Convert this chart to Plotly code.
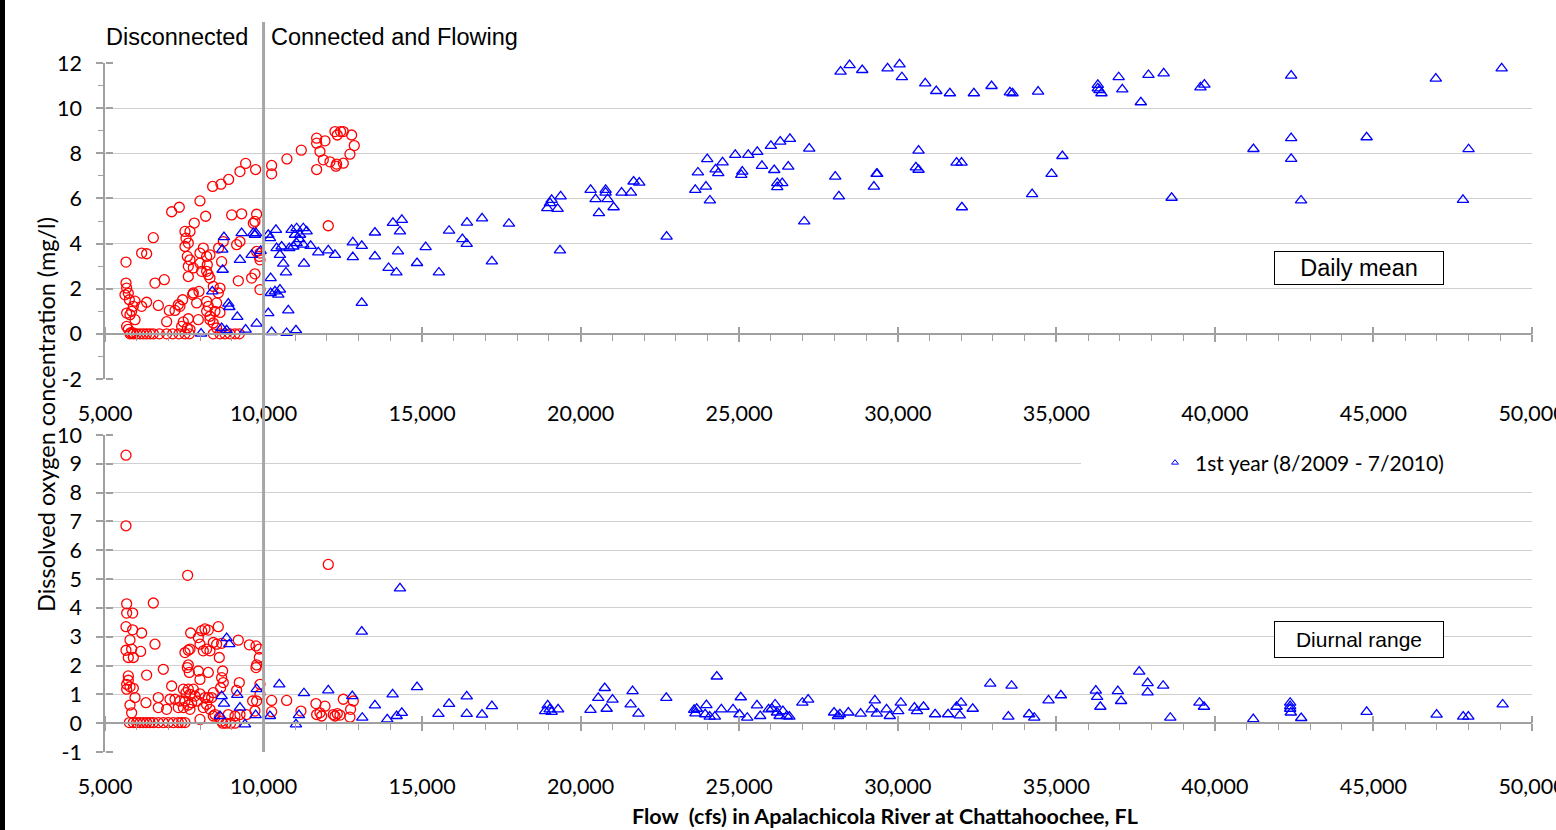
import plotly.graph_objects as go

# ---------------- data ----------------
# Top panel: daily mean DO (mg/l) vs flow (cfs)
top_red_flow = [5662, 6156, 6313, 6524, 7102, 7343, 7995, 8174, 8394, 8657,
                8899, 9256, 9435, 9750, 10255, 10255, 10738, 11190, 11674, 11674,
                11674, 11779, 11937, 11884, 12094, 12304, 12514, 12283, 12252, 12430,
                12514, 12325, 12777, 12861, 12724, 12041, 5662, 5683, 5630, 5735,
                5767, 5683, 5788, 5840, 5893, 5683, 5735, 5810, 5893, 5946,
                5946, 6313, 6156, 6682, 6576, 6870, 7028, 7207, 7364, 7448,
                6944, 7469, 7627, 7596, 7680, 5788, 5893, 5998, 6103, 6208,
                6313, 6418, 6524, 6713, 6944, 7133, 7333, 7522, 7659, 8415,
                8626, 8783, 8941, 9099, 9235, 7522, 7680, 7554, 7627, 7522,
                7596, 7680, 7627, 7785, 7627, 7816, 7785, 7964, 7995, 8100,
                8205, 8310, 7995, 8047, 8205, 8258, 8310, 8226, 8583, 8730,
                8678, 8994, 9309, 9782, 9729, 9677, 9151, 9256, 9782, 9887,
                9866, 9887, 9204, 9624, 9729, 9887, 8415, 8626, 8573, 8521,
                8468, 8626, 8310, 8205, 8205, 8258, 7890, 7764, 7943, 8310,
                8415, 8521, 7312, 7417]
top_red_do = [3.18, 3.58, 3.55, 4.26, 5.41, 5.61, 5.89, 5.21, 6.53, 6.63,
              6.84, 7.19, 7.55, 7.28, 7.46, 7.09, 7.75, 8.14, 8.67, 8.45,
              7.28, 8.08, 8.55, 7.71, 7.62, 7.52, 7.56, 7.43, 8.96, 8.96,
              8.96, 8.81, 8.81, 8.34, 7.96, 4.79, 2.25, 2.03, 1.73, 1.80,
              1.51, 0.92, 0.85, 1.00, 1.22, 0.33, 0.20, 0.05, 0.04, 0.63,
              1.45, 1.40, 1.22, 1.26, 2.25, 2.40, 1.04, 1.04, 1.22, 1.51,
              0.54, 0.53, 0.67, 0.26, 0.19, 0.0, 0.0, 0.0, 0.0, 0.0,
              0.0, 0.0, 0.0, 0.0, 0.0, 0.0, 0.0, 0.0, 0.0, 0.0,
              0.0, 0.0, 0.0, 0.0, 0.0, 4.54, 4.54, 4.24, 4.02, 3.87,
              3.43, 3.28, 2.99, 2.92, 2.54, 4.91, 1.81, 1.88, 3.58, 3.80,
              3.43, 3.50, 3.13, 2.77, 2.77, 2.62, 2.47, 3.06, 3.80, 4.09,
              3.20, 5.27, 5.32, 5.30, 4.98, 4.90, 3.95, 4.09, 3.65, 3.58,
              3.43, 3.28, 2.35, 2.47, 2.66, 1.96, 2.10, 2.03, 1.81, 1.37,
              1.00, 0.95, 0.78, 1.00, 1.44, 1.22, 1.37, 1.74, 0.63, 0.63,
              0.48, 0.26, 1.29, 0.33]

top_blue_flow = [8030, 8384, 8678, 8710, 8699, 8752, 8836, 8888, 8920, 9172,
                 9256, 9309, 9435, 9624, 9677, 9729, 9761, 9782, 9908, 10149,
                 10202, 10391, 10412, 10570, 10517, 10622, 10707, 10223, 10223, 10360,
                 10465, 10517, 10149, 10780, 10255, 10728, 11022, 10885, 11043, 11253,
                 10990, 11148, 11358, 11127, 10812, 10938, 11043, 11253, 11484, 11726,
                 12041, 12252, 11274, 12815, 13097, 12815, 13097, 13512, 13512, 13942,
                 14190, 14080, 14360, 14302, 14240, 14840, 15112, 15530, 15850, 16270,
                 16407, 16415, 16890, 17200, 17738, 18947, 19031, 19084, 19273, 19368,
                 19347, 20314, 20471, 20576, 20787, 20787, 20850, 21039, 21291, 21585,
                 21669, 21848, 22710, 23614, 23698, 23950, 23992, 24076, 24255, 24339,
                 24475, 24875, 25064, 25096, 25285, 25569, 25716, 25999, 26104, 26199,
                 26199, 26357, 26294, 26546, 26599, 27050, 27208, 28028, 28143, 28196,
                 28480, 28879, 29247, 29331, 29352, 29678, 30056, 30130, 30655, 30571,
                 30655, 30866, 31213, 31643, 31854, 32011, 32022, 32400, 32957, 33535,
                 33619, 34236, 34425, 34850, 35191, 36308, 36308, 36360, 36423, 36966,
                 37080, 37665, 37905, 38385, 38636, 39544, 39670, 41215, 42405, 42405,
                 42405, 42718, 44785, 46967, 47823, 48000, 49044]
top_blue_do = [0.01, 1.88, 0.26, 2.84, 3.73, 4.29, 0.16, 1.34, 1.19, 0.75,
               3.28, 4.46, 0.19, 3.50, 4.46, 4.39, 4.46, 0.45, 3.68, 4.39,
               4.24, 4.61, 3.80, 3.87, 3.50, 3.11, 2.72, 2.47, 1.81, 1.88,
               1.74, 1.96, 0.92, 1.04, 0.08, 0.04, 0.16, 4.61, 4.68, 4.68,
               4.39, 4.39, 4.54, 4.20, 3.80, 3.87, 4.02, 3.95, 3.90, 3.61,
               3.70, 3.50, 3.11, 4.05, 3.90, 3.40, 1.37, 4.49, 3.43, 2.92,
               2.72, 4.92, 5.05, 4.54, 3.65, 3.14, 3.84, 2.72, 4.57, 4.20,
               3.99, 4.93, 5.12, 3.21, 4.88, 5.57, 5.79, 5.94, 5.54, 6.09,
               3.70, 6.38, 5.97, 5.35, 6.38, 6.26, 5.97, 5.61, 6.26, 6.26,
               6.75, 6.70, 4.31, 6.38, 7.15, 6.52, 7.74, 5.91, 7.29, 7.12,
               7.60, 7.93, 7.04, 7.19, 7.93, 8.06, 7.44, 8.33, 7.26, 6.68,
               6.50, 6.68, 8.52, 7.41, 8.64, 4.98, 8.21, 6.97, 6.09, 11.62,
               11.91, 11.69, 6.52, 7.09, 7.09, 11.76, 11.94, 11.37, 8.12, 7.38,
               7.27, 11.10, 10.76, 10.66, 7.59, 7.59, 5.61, 10.66, 10.98, 10.70,
               10.66, 6.19, 10.73, 7.09, 7.88, 11.03, 10.88, 10.80, 10.66, 11.37,
               10.83, 10.26, 11.47, 11.54, 6.03, 10.92, 11.04, 8.19, 11.44, 8.67,
               7.75, 5.91, 8.71, 11.31, 5.94, 8.18, 11.76]

# Bottom panel: diurnal range of DO (mg/l) vs flow (cfs)
bot_red_flow = [5662, 5662, 5683, 5683, 5872, 5662, 5872, 5788, 5662, 5840,
                5893, 5735, 6124, 6156, 5735, 5735, 5683, 5788, 5683, 5893,
                5946, 5788, 5840, 5767, 5893, 5998, 6103, 6208, 6313, 6418,
                6524, 6681, 6839, 6997, 7154, 7312, 7417, 7522, 6524, 6576,
                6313, 6292, 6681, 6681, 6944, 6839, 7102, 7049, 7207, 7364,
                7312, 7606, 7522, 7627, 7701, 7680, 7596, 7659, 7627, 7943,
                7995, 8258, 7470, 7554, 7627, 7680, 7785, 7838, 7522, 7627,
                7733, 7470, 7680, 7911, 7995, 8152, 8258, 8363, 8415, 8100,
                8205, 8310, 8415, 7995, 7943, 7995, 8047, 8152, 8258, 8205,
                8310, 8100, 8415, 8573, 8521, 8678, 8604, 8710, 8678, 8730,
                8646, 9204, 9551, 9761, 9866, 9866, 9782, 9761, 9887, 9887,
                9235, 9151, 9656, 9782, 9729, 9466, 9256, 9099, 8888, 8604,
                8468, 8710, 8815, 8962, 9099, 8678, 10255, 10255, 10728, 11180,
                11653, 11674, 11779, 11937, 11832, 12041, 12199, 12252, 12325, 12409,
                12514, 12745, 12830, 12724]
bot_red_rng = [9.30, 6.85, 4.14, 3.82, 3.82, 3.35, 3.24, 2.89, 2.53, 2.57,
               2.28, 2.28, 2.49, 3.13, 1.64, 1.49, 1.35, 1.26, 1.18, 1.21,
               0.89, 0.63, 0.36, 0.02, 0.02, 0.02, 0.02, 0.02, 0.02, 0.02,
               0.02, 0.02, 0.02, 0.02, 0.02, 0.02, 0.02, 0.02, 4.17, 2.74,
               1.67, 0.71, 0.89, 0.54, 0.48, 1.87, 1.29, 0.83, 0.83, 0.77,
               0.54, 5.13, 2.45, 2.53, 3.13, 2.57, 1.93, 1.76, 2.02, 1.81,
               1.52, 1.76, 1.18, 1.06, 1.18, 1.00, 1.18, 0.94, 0.77, 0.63,
               0.71, 0.54, 0.48, 0.77, 1.02, 0.89, 0.89, 0.89, 1.06, 0.54,
               0.65, 0.48, 0.25, 0.13, 2.97, 2.74, 3.21, 3.27, 3.23, 2.57,
               2.51, 2.51, 2.80, 3.35, 2.74, 2.77, 2.28, 1.81, 1.58, 1.41,
               1.23, 2.88, 2.72, 2.68, 2.57, 2.28, 2.02, 1.93, 1.35, 1.00,
               1.41, 1.14, 0.77, 0.77, 0.42, 0.30, 0.30, 0.25, 0.30, 0.19,
               0.30, 0.00, 0.00, 0.00, 0.00, 0.07, 0.79, 0.40, 0.79, 0.42,
               0.68, 0.30, 0.36, 0.59, 0.25, 5.51, 0.30, 0.25, 0.33, 0.28,
               0.83, 0.48, 0.77, 0.21]

bot_blue_flow = [8836, 8920, 8678, 8752, 9172, 9256, 8626, 9414, 9750, 9782,
                 10202, 10496, 11022, 11117, 11274, 12041, 12798, 13113, 13512, 13901,
                 14070, 14196, 14302, 13097, 14360, 14840, 15515, 15850, 16407, 16407,
                 16890, 17200, 18961, 19022, 19084, 18880, 19288, 20310, 20555, 20759,
                 20820, 21004, 21576, 21637, 21821, 22700, 23578, 23660, 23619, 23966,
                 23926, 24069, 24232, 24293, 24436, 24804, 25049, 25008, 25253, 25560,
                 25662, 25928, 26030, 26132, 26193, 26275, 26377, 26500, 26582, 26990,
                 27174, 27991, 28114, 28175, 28441, 28829, 29176, 29278, 29339, 29646,
                 29748, 30014, 30096, 30525, 30607, 30811, 31178, 31587, 31853, 31996,
                 31955, 32363, 32915, 33487, 33589, 34141, 34304, 34754, 35142, 36245,
                 36286, 36388, 36940, 37042, 37614, 37879, 37879, 38369, 38594, 39513,
                 39656, 41210, 42374, 42374, 42394, 42374, 42722, 44785, 46992, 47829,
                 47993, 49075]
bot_blue_rng = [2.95, 2.74, 0.94, 0.68, 0.98, 0.54, 0.25, -0.04, 0.28, 1.18,
                0.25, 1.35, -0.04, 0.28, 1.04, 1.14, 0.94, 0.19, 0.62, 0.13,
                1.00, 0.25, 4.68, 3.18, 0.36, 1.25, 0.32, 0.67, 0.93, 0.32,
                0.30, 0.59, 0.62, 0.48, 0.39, 0.42, 0.48, 0.46, 0.88, 1.22,
                0.50, 0.82, 0.65, 1.11, 0.33, 0.88, 0.46, 0.50, 0.34, 0.63,
                0.31, 0.23, 0.23, 1.62, 0.48, 0.48, 0.90, 0.31, 0.19, 0.62,
                0.25, 0.48, 0.50, 0.65, 0.37, 0.25, 0.42, 0.25, 0.23, 0.71,
                0.82, 0.37, 0.25, 0.31, 0.37, 0.33, 0.48, 0.79, 0.33, 0.48,
                0.25, 0.42, 0.71, 0.54, 0.42, 0.57, 0.31, 0.31, 0.57, 0.71,
                0.27, 0.50, 1.37, 0.23, 1.30, 0.31, 0.19, 0.79, 0.97, 1.13,
                0.91, 0.57, 1.11, 0.77, 1.79, 1.39, 1.07, 1.30, 0.19, 0.71,
                0.57, 0.14, 0.71, 0.59, 0.37, 0.50, 0.18, 0.39, 0.30, 0.23,
                0.23, 0.65]

# axis ticks / labels
x_tick_vals = [5000, 10000, 15000, 20000, 25000, 30000, 35000, 40000, 45000, 50000]
x_tick_labels = ["5,000", "10,000", "15,000", "20,000", "25,000", "30,000",
                 "35,000", "40,000", "45,000", "50,000"]
x_minor_vals = [v for v in range(6000, 50000, 1000) if v % 5000]
top_y_vals = [-2, 0, 2, 4, 6, 8, 10, 12]
top_y_labels = ["-2", "0", "2", "4", "6", "8", "10", "12"]
top_y_minor = [-1, 1, 3, 5, 7, 9, 11]
bot_y_vals = [-1, 0, 1, 2, 3, 4, 5, 6, 7, 8, 9, 10]
bot_y_labels = ["-1", "0", "1", "2", "3", "4", "5", "6", "7", "8", "9", "10"]
threshold_flow = 10000
legend_name = "1st year (8/2009 - 7/2010)"

# ---------------- layout geometry (pixels -> paper) ----------------
W, H = 1556, 830
def px(x):
    return x / W
def py(y):
    return 1 - y / H

X_DOM = [px(105), px(1532)]
TOP_DOM = [py(379), py(63)]
BOT_DOM = [py(752), py(435)]
TOP_RANGE = [-2, 12]
BOT_RANGE = [-1, 10]
def zero_pos(dom, rng):
    return dom[0] + (0 - rng[0]) / (rng[1] - rng[0]) * (dom[1] - dom[0])

RED = "#FF0000"
BLUE = "#0000FF"
GRID = "#CFCFCF"
AXC = "#A0A0A0"
CAL = "Lato, Open Sans, sans-serif"
TICKFONT = dict(family=CAL, size=21.5, color="black")

fig = go.Figure()

circle = dict(symbol="circle-open", size=10, color=RED, line=dict(width=1.3, color=RED))
tri = dict(symbol="triangle-up-open", size=10, color=BLUE, line=dict(width=1.3, color=BLUE))

fig.add_trace(go.Scatter(x=top_red_flow, y=top_red_do, mode="markers", marker=circle,
                         showlegend=False, name="Other period", xaxis="x", yaxis="y",
                         cliponaxis=False))
fig.add_trace(go.Scatter(x=top_blue_flow, y=top_blue_do, mode="markers", marker=tri,
                         showlegend=False, name=legend_name, xaxis="x", yaxis="y",
                         cliponaxis=False))
fig.add_trace(go.Scatter(x=bot_red_flow, y=bot_red_rng, mode="markers", marker=circle,
                         showlegend=False, name="Other period", xaxis="x2", yaxis="y2",
                         cliponaxis=False))
fig.add_trace(go.Scatter(x=bot_blue_flow, y=bot_blue_rng, mode="markers", marker=tri,
                         showlegend=False, name=legend_name, xaxis="x2", yaxis="y2",
                         cliponaxis=False))
# legend entry
fig.add_trace(go.Scatter(x=[None], y=[None], mode="markers", name=legend_name,
                         marker=dict(symbol="triangle-up-open", size=6, color=BLUE,
                                     line=dict(width=1, color=BLUE)),
                         xaxis="x2", yaxis="y2", showlegend=True))
# anchors for the helper axes
for xa, ya in [("x3", "y"), ("x4", "y"), ("x", "y3"), ("x5", "y2"), ("x6", "y2"), ("x2", "y4")]:
    fig.add_trace(go.Scatter(x=[None], y=[None], xaxis=xa, yaxis=ya, showlegend=False,
                             hoverinfo="skip"))

def main_x(anchor):
    return dict(domain=X_DOM, anchor=anchor, range=[5000, 50000], showgrid=False,
                zeroline=False, showline=False, ticks="", tickmode="array",
                tickvals=x_tick_vals, ticktext=x_tick_labels, tickfont=TICKFONT,
                ticklabelstandoff=19, ticklabeloverflow="allow", automargin=False)

def zero_x(over, pos, side):
    return dict(overlaying=over, anchor="free", position=pos, side=side,
                range=[5000, 50000], showgrid=False, zeroline=False,
                showline=(side == "bottom"), linecolor=AXC, linewidth=1.5,
                ticks="outside", ticklen=7, tickwidth=1.5, tickcolor=AXC,
                tickmode="array", tickvals=x_tick_vals, showticklabels=False,
                minor=(dict(ticks="outside", ticklen=6, tickcolor=AXC, tickwidth=1.2,
                            tickmode="array", tickvals=x_minor_vals, showgrid=False)
                       if side == "bottom" else None),
                automargin=False)

def main_y(dom, rng, vals, labels, minor_vals):
    d = dict(domain=dom, anchor=None, range=rng, showgrid=True, gridcolor=GRID,
             gridwidth=1.3, zeroline=False, showline=True, linecolor=AXC, linewidth=1.5,
             ticks="outside", ticklen=7, tickwidth=1.5, tickcolor=AXC,
             tickmode="array", tickvals=vals, ticktext=labels, tickfont=TICKFONT,
             ticklabelstandoff=10, automargin=False)
    if minor_vals:
        d["minor"] = dict(ticks="outside", ticklen=5, tickcolor=AXC, tickwidth=1.2,
                          tickmode="array", tickvals=minor_vals, showgrid=False)
    return d

def inner_y(over, rng, vals):
    return dict(overlaying=over, anchor="free", position=X_DOM[0], side="right",
                range=rng, showgrid=False, zeroline=False, showline=False,
                ticks="outside", ticklen=7, tickwidth=1.5, tickcolor=AXC,
                tickmode="array", tickvals=vals, showticklabels=False, automargin=False)

ytop = main_y(TOP_DOM, TOP_RANGE, top_y_vals, top_y_labels, top_y_minor)
ytop["anchor"] = "x"
ybot = main_y(BOT_DOM, BOT_RANGE, bot_y_vals, bot_y_labels, None)
ybot["anchor"] = "x2"

z_top = zero_pos(TOP_DOM, TOP_RANGE)
z_bot = zero_pos(BOT_DOM, BOT_RANGE)

fig.update_layout(
    width=W, height=H, autosize=False,
    margin=dict(l=0, r=0, t=0, b=0),
    paper_bgcolor="white", plot_bgcolor="white",
    xaxis=main_x("y"), yaxis=ytop,
    xaxis2=main_x("y2"), yaxis2=ybot,
    xaxis3=zero_x("x", z_top, "bottom"),
    xaxis4=zero_x("x", z_top, "top"),
    yaxis3=inner_y("y", TOP_RANGE, top_y_vals),
    xaxis5=zero_x("x2", z_bot, "bottom"),
    xaxis6=zero_x("x2", z_bot, "top"),
    yaxis4=inner_y("y2", BOT_RANGE, bot_y_vals),
    showlegend=True,
    legend=dict(x=px(1155), y=py(463), xanchor="left", yanchor="middle",
                bgcolor="rgba(0,0,0,0)", borderwidth=0, itemwidth=30,
                font=dict(family=CAL, size=21, color="black")),
)

shapes = [
    # white patch where the legend interrupts the gridline
    dict(type="rect", xref="paper", yref="paper", x0=px(1081), x1=px(1534),
         y0=py(476), y1=py(450), fillcolor="white", line=dict(width=0), layer="above"),
    # threshold line at 10,000 cfs
    dict(type="line", xref="x", yref="paper", x0=threshold_flow, x1=threshold_flow,
         y0=py(752), y1=py(22), line=dict(color="#A6A6A6", width=3), layer="above"),
    # left black border
    dict(type="rect", xref="paper", yref="paper", x0=0, x1=px(5), y0=0, y1=1,
         fillcolor="black", line=dict(width=0), layer="above"),
]
fig.update_layout(shapes=shapes)

ARIAL = "Liberation Sans, Arial, sans-serif"
annotations = [
    dict(text="Disconnected", x=px(177), y=py(37), xref="paper", yref="paper",
         showarrow=False, xanchor="center", yanchor="middle",
         font=dict(family=ARIAL, size=23.5, color="black")),
    dict(text="Connected and Flowing", x=px(269), y=py(37), xref="paper", yref="paper",
         showarrow=False, xanchor="left", yanchor="middle",
         font=dict(family=ARIAL, size=23.5, color="black")),
    dict(text="Daily mean", x=px(1359), y=py(268), xref="paper", yref="paper",
         showarrow=False, xanchor="center", yanchor="middle", width=168, height=32,
         bordercolor="black", borderwidth=1, borderpad=0, bgcolor="white",
         font=dict(family=ARIAL, size=23.5, color="black")),
    dict(text="Diurnal range", x=px(1359), y=py(639.5), xref="paper", yref="paper",
         showarrow=False, xanchor="center", yanchor="middle", width=168, height=35,
         bordercolor="black", borderwidth=1, borderpad=0, bgcolor="white",
         font=dict(family=ARIAL, size=21, color="black")),
    dict(text="Dissolved oxygen concentration (mg/l)", x=px(46), y=py(415),
         xref="paper", yref="paper", showarrow=False, textangle=-90,
         xanchor="center", yanchor="middle",
         font=dict(family=CAL, size=23.5, color="black")),
    dict(text="<b>Flow\u00a0 (cfs) in Apalachicola River at Chattahoochee, FL</b>",
         x=px(885), y=py(816), xref="paper", yref="paper", showarrow=False,
         xanchor="center", yanchor="middle",
         font=dict(family=CAL, size=21.5, color="black")),
]
fig.update_layout(annotations=annotations)

fig.write_html("out.html", config={"displayModeBar": False},
               post_script="document.body.style.margin='0px';")
